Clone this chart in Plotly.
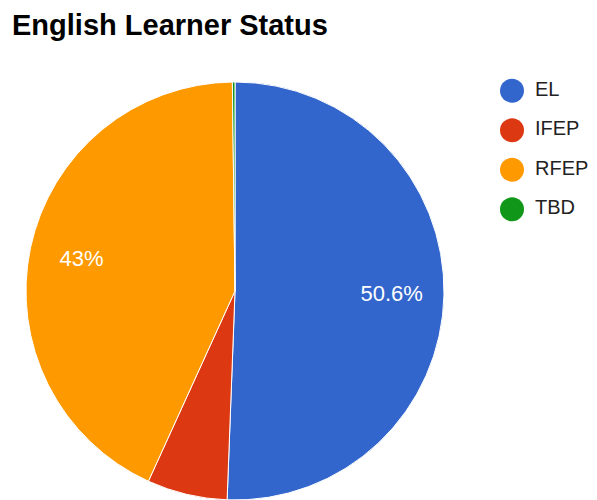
import plotly.graph_objects as go

labels = ["EL", "IFEP", "RFEP", "TBD"]
values = [50.6, 6.2, 43.0, 0.2]
colors = ["#3366cc", "#dc3912", "#ff9900", "#109618"]
title_text = "English Learner Status"

W, H = 597, 500
OFF = 8  # page body margin compensation

total = sum(values)
# Google-style: only label slices large enough
slice_text = ["%{percent:.3~p}" if v / total >= 0.1 else "" for v in values]

pie_domain = dict(x=[(26 - OFF) / W, (444 - OFF) / W],
                  y=[OFF / H, (H - (82 - OFF)) / H])

fig = go.Figure()

# coloured slices
fig.add_trace(go.Pie(
    labels=labels,
    values=values,
    sort=False,
    direction="clockwise",
    rotation=0,
    marker=dict(colors=colors, line=dict(color="white", width=1)),
    textinfo="none",
    showlegend=False,
    domain=pie_domain,
    hoverinfo="label+percent",
))

# label layer (donut ring so labels sit further out like the reference)
fig.add_trace(go.Pie(
    labels=labels,
    values=values,
    sort=False,
    direction="clockwise",
    rotation=0,
    hole=0.5,
    marker=dict(colors=["rgba(0,0,0,0)"] * len(labels), line=dict(width=0)),
    texttemplate=slice_text,
    textposition="inside",
    insidetextorientation="horizontal",
    textfont=dict(family="Liberation Sans, Arial, sans-serif", size=22, color="white"),
    showlegend=False,
    domain=pie_domain,
    hoverinfo="skip",
))

# custom legend with large circular markers
idx = list(range(len(labels)))
fig.add_trace(go.Scatter(
    x=[0] * len(labels),
    y=idx,
    mode="markers",
    marker=dict(color=colors, size=24, symbol="circle"),
    showlegend=False,
    hoverinfo="skip",
    cliponaxis=False,
))
fig.add_trace(go.Scatter(
    x=[23] * len(labels),
    y=idx,
    mode="text",
    text=labels,
    textposition="middle right",
    textfont=dict(family="Liberation Sans, Arial, sans-serif", size=20, color="#222222"),
    showlegend=False,
    hoverinfo="skip",
    cliponaxis=False,
))

fig.update_layout(
    width=W, height=H,
    margin=dict(l=0, r=0, t=0, b=0),
    paper_bgcolor="white",
    plot_bgcolor="rgba(0,0,0,0)",
    title=dict(
        text="<b>" + title_text + "</b>",
        x=(12 - OFF) / W, xanchor="left",
        y=1 - (25 - OFF) / H, yanchor="middle",
        font=dict(family="Liberation Sans, Arial, sans-serif", size=29, color="#000000"),
    ),
    xaxis=dict(domain=[490 / W, 1.0], range=[-14, 93], visible=False, fixedrange=True),
    yaxis=dict(domain=[0.5, 0.9], range=[4.232, -0.827], visible=False, fixedrange=True),
    showlegend=False,
)

fig.write_html("out.html")
